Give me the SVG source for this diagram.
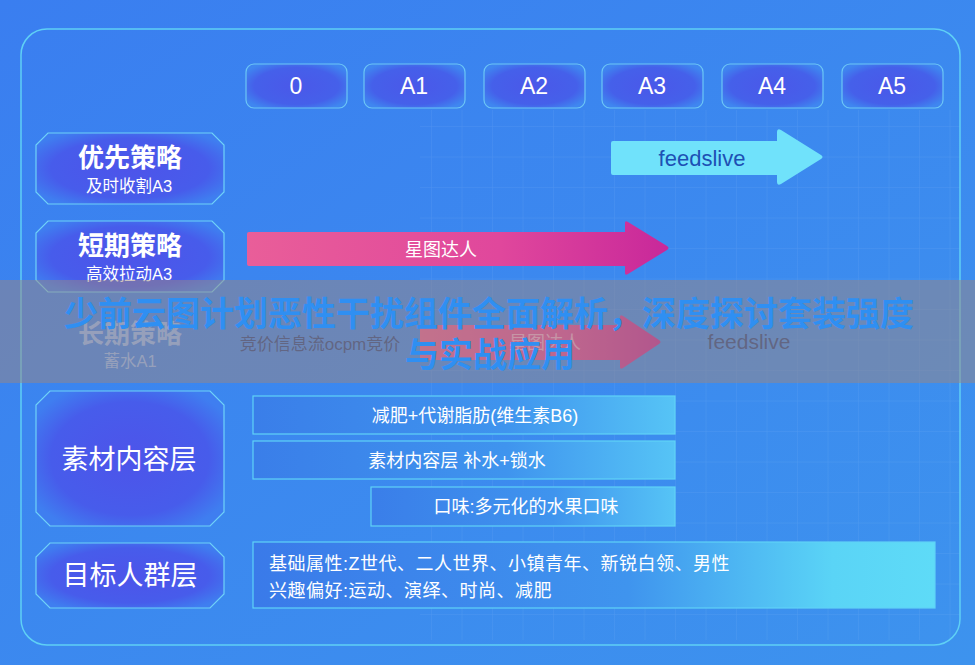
<svg xmlns="http://www.w3.org/2000/svg" width="975" height="665" viewBox="0 0 975 665">
<defs>
<linearGradient id="bg" x1="0" y1="0" x2="1" y2="1">
<stop offset="0" stop-color="#3a7ef0"/>
<stop offset="1" stop-color="#3d93ee"/>
</linearGradient>
<radialGradient id="hdr" cx="0.5" cy="0.5" r="0.6">
<stop offset="0" stop-color="#4a58e9"/>
<stop offset="0.7" stop-color="#4560ea"/>
<stop offset="1" stop-color="#3f86f0"/>
</radialGradient>
<radialGradient id="nodeG" cx="0.5" cy="0.5" r="0.6">
<stop offset="0" stop-color="#4d54ea"/>
<stop offset="0.7" stop-color="#475ceb"/>
<stop offset="1" stop-color="#3f7ef0"/>
</radialGradient>
<linearGradient id="boxG" x1="0" y1="0" x2="1" y2="0">
<stop offset="0" stop-color="#3a7ee9"/>
<stop offset="0.6" stop-color="#3f94ee"/>
<stop offset="1" stop-color="#56c4f6"/>
</linearGradient>
<linearGradient id="box4G" x1="0" y1="0" x2="1" y2="0">
<stop offset="0" stop-color="#3a7ae9"/>
<stop offset="0.55" stop-color="#3f94ee"/>
<stop offset="0.85" stop-color="#5ad4f6"/>
<stop offset="1" stop-color="#5edbf7"/>
</linearGradient>
<linearGradient id="pinkG" x1="0" y1="0" x2="1" y2="0">
<stop offset="0" stop-color="#e95e99"/>
<stop offset="0.6" stop-color="#e0479c"/>
<stop offset="1" stop-color="#c8289a"/>
</linearGradient>
<pattern id="grid" width="30.5" height="30.5" patternUnits="userSpaceOnUse" x="5" y="5">
<path d="M30.5 0V30.5M0 30.5H30.5" fill="none" stroke="#ffffff" stroke-opacity="0.09" stroke-width="1"/>
</pattern>
<style>
text{font-family:"Liberation Sans","Noto Sans CJK SC",sans-serif;}
.hbox{fill:url(#hdr);stroke:#6cc6f6;stroke-width:1.2;}
.htxt{fill:#ffffff;font-size:23px;text-anchor:middle;}
.node{fill:url(#nodeG);stroke:#6fd2f8;stroke-width:1.2;}
.ntitle{fill:#ffffff;font-size:26px;font-weight:bold;text-anchor:middle;}
.nsub{fill:#ffffff;font-size:16.5px;text-anchor:middle;}
.nbig{fill:#ffffff;font-size:27px;text-anchor:middle;}
.box{fill:url(#boxG);stroke:#5fd3f7;stroke-width:1.2;}
.btxt{fill:#ffffff;font-size:18px;text-anchor:middle;}
.btxtl{fill:#ffffff;font-size:18px;letter-spacing:0.5px;}
.title{fill:#2f8ff2;font-size:34px;font-weight:bold;text-anchor:middle;}
</style>
</defs>
<rect width="975" height="665" fill="url(#bg)"/>
<rect x="420" y="110" width="540" height="530" fill="url(#grid)"/>
<rect id="frame" x="21" y="29" width="939" height="616" rx="26" fill="none" stroke="#5fd0f5" stroke-width="1.5"/>

<g id="h0"><rect class="hbox" x="246" y="64" width="101" height="44" rx="8"/><text class="htxt" x="296" y="94">0</text></g>
<g id="hA1"><rect class="hbox" x="364" y="64" width="101" height="44" rx="8"/><text class="htxt" x="414" y="94">A1</text></g>
<g id="hA2"><rect class="hbox" x="484" y="64" width="101" height="44" rx="8"/><text class="htxt" x="534" y="94">A2</text></g>
<g id="hA3"><rect class="hbox" x="602" y="64" width="101" height="44" rx="8"/><text class="htxt" x="652" y="94">A3</text></g>
<g id="hA4"><rect class="hbox" x="722" y="64" width="101" height="44" rx="8"/><text class="htxt" x="772" y="94">A4</text></g>
<g id="hA5"><rect class="hbox" x="842" y="64" width="101" height="44" rx="8"/><text class="htxt" x="892" y="94">A5</text></g>

<g id="n1"><path class="node" d="M48 133H212L224 145V192L212 204H48L36 192V145Z"/><text class="ntitle" x="130" y="167">优先策略</text><text class="nsub" x="129" y="192">及时收割A3</text></g>
<g id="n2"><path class="node" d="M48 221H212L224 233V280L212 292H48L36 280V233Z"/><text class="ntitle" x="130" y="255">短期策略</text><text class="nsub" x="129" y="280">高效拉动A3</text></g>
<g id="n3"><text class="ntitle" x="130" y="343" style="fill:#ffffff;fill-opacity:0.45">长期策略</text><text class="nsub" x="130" y="367" style="fill:#ffffff;fill-opacity:0.45">蓄水A1</text></g>
<g id="n4"><path class="node" d="M50 391H210L224 405V512L210 526H50L36 512V405Z"/><text class="nbig" x="129" y="469">素材内容层</text></g>
<g id="n5"><path class="node" d="M50 543H210L224 557V594L210 608H50L36 594V557Z"/><text class="nbig" x="130" y="585">目标人群层</text></g>

<g id="connectors">
<path d="M611 143Q611 141 613 141H777V132Q777 128 781 130L821 155Q824 157 821 159L781 184Q777 186 777 182V175H613Q611 175 611 173Z" fill="#70e2fb"/>
<text x="702" y="166" fill="#1d50b4" font-size="22" text-anchor="middle">feedslive</text>
<path d="M249 232H625V223Q625 220 628 222L667 246Q670 248 667 250L628 274Q625 276 625 273V266H249Q247 266 247 264V234Q247 232 249 232Z" fill="url(#pinkG)"/>
<text x="441" y="256" fill="#ffffff" font-size="18" text-anchor="middle">星图达人</text>
<path d="M420 325H620V317Q620 314 623 316L659 340Q662 342 659 344L623 368Q620 370 620 367V360H420Z" fill="url(#pinkG)"/>
<text x="545" y="349" fill="#ffffff" font-size="18" text-anchor="middle" fill-opacity="0.5">星图达人</text>
<text x="320" y="350" fill="#24346a" fill-opacity="0.8" font-size="17" text-anchor="middle">竞价信息流ocpm竞价</text>
<text x="749" y="349" fill="#24346a" fill-opacity="0.8" font-size="21" text-anchor="middle">feedslive</text>
</g>

<g id="b1"><rect class="box" x="253" y="396" width="422" height="38"/><text class="btxt" x="475" y="422">减肥+代谢脂肪(维生素B6)</text></g>
<g id="b2"><rect class="box" x="253" y="441" width="422" height="38"/><text class="btxt" x="457" y="467">素材内容层 补水+锁水</text></g>
<g id="b3"><rect class="box" x="371" y="487" width="304" height="39"/><text class="btxt" x="526" y="513">口味:多元化的水果口味</text></g>
<g id="b4"><rect x="253" y="542" width="682" height="66" style="fill:url(#box4G);stroke:#5fd3f7;stroke-width:1.2"/><text class="btxtl" x="269" y="570">基础属性:Z世代、二人世界、小镇青年、新锐白领、男性</text><text class="btxtl" x="269" y="597">兴趣偏好:运动、演绎、时尚、减肥</text></g>

<g id="banner">
<rect x="0" y="280" width="975" height="103" fill="#9b8680" fill-opacity="0.5"/>
<text class="title" x="489" y="326">少前云图计划恶性干扰组件全面解析，深度探讨套装强度</text>
<text class="title" x="490" y="367">与实战应用</text>
</g>
</svg>
